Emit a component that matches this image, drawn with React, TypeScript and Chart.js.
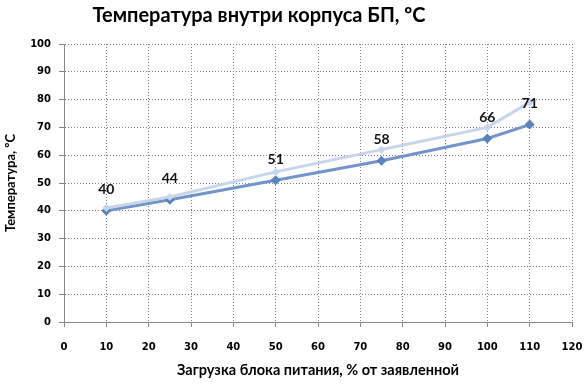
import React, { useEffect, useRef } from "react";
import { Chart, registerables } from "chart.js";

Chart.register(...registerables);

const loadPct = [10, 25, 50, 75, 100, 110];
const tempMain = [40, 44, 51, 58, 66, 71];
const tempLight = [41, 45, 54, 62, 70, 79];
const chartTitle = "Температура внутри корпуса БП, ºC";
const xTitle = "Загрузка блока питания, % от заявленной";
const yTitle = "Температура, ºC";

const labelPlugin = {
  id: "valueLabels",
  afterDatasetsDraw(chart: any) {
    const ctx = chart.ctx;
    const meta = chart.getDatasetMeta(1);
    ctx.save();
    ctx.font = "bold 14px Lato, 'Open Sans', sans-serif";
    ctx.fillStyle = "#111";
    ctx.textAlign = "center";
    ctx.textBaseline = "middle";
    meta.data.forEach((pt: any, i: number) => {
      ctx.fillText(String(tempMain[i]), pt.x, pt.y - 21);
    });
    ctx.restore();
  },
};

const titlePlugin = {
  id: "topTitle",
  afterDraw(chart: any) {
    const ctx = chart.ctx;
    ctx.save();
    ctx.font = "bold 20px Lato, 'Open Sans', sans-serif";
    ctx.fillStyle = "#000";
    ctx.textAlign = "center";
    ctx.textBaseline = "middle";
    ctx.fillText(chartTitle, 259, 16);
    ctx.restore();
  },
};

export default function App() {
  const ref = useRef<HTMLCanvasElement | null>(null);
  useEffect(() => {
    document.body.style.margin = "0";
    const tickFont = { family: "'DejaVu Sans', Tahoma, sans-serif", size: 10, weight: "bold" as const };
    const gridOpts = {
      color: "#808080",
      tickColor: "#888",
      tickLength: 5,
      lineWidth: 1,
      tickBorderDash: [],
      borderDash: [1, 2],
    };
    const chart = new Chart(ref.current!, {
      type: "line",
      data: {
        datasets: [
          {
            data: loadPct.map((x, i) => ({ x, y: tempLight[i] })),
            borderColor: "#c6d5ec",
            backgroundColor: "#c6d5ec",
            borderWidth: 3,
            pointStyle: "rectRot",
            pointRadius: 4,
            pointBorderWidth: 0,
          },
          {
            data: loadPct.map((x, i) => ({ x, y: tempMain[i] })),
            borderColor: "#7094cb",
            backgroundColor: "#5a81c0",
            borderWidth: 3,
            pointStyle: "rectRot",
            pointRadius: 5,
            pointBorderWidth: 0,
          },
        ],
      },
      options: {
        responsive: false,
        animation: false,
        layout: { padding: { top: 44, right: 0, left: 0, bottom: 0 } },
        plugins: { legend: { display: false }, tooltip: { enabled: false }, title: { display: false } },
        scales: {
          x: {
            type: "linear",
            min: 0,
            max: 120,
            ticks: { stepSize: 10, color: "#000", font: tickFont, padding: 14 },
            border: { color: "#888", width: 1, dash: [1, 2] },
            grid: gridOpts,
            title: {
              display: true,
              text: xTitle,
              color: "#000",
              font: { family: "Lato, 'Open Sans', sans-serif", size: 14.5, weight: "bold" },
              padding: { top: 6, bottom: 5 },
            },
            afterFit(scale: any) {
              scale.height = 62;
              scale.paddingRight = 12;
              scale.paddingLeft = 0;
            },
          },
          y: {
            min: 0,
            max: 100,
            ticks: { stepSize: 10, color: "#000", font: tickFont, padding: 8 },
            border: { color: "#888", width: 1, dash: [1, 2] },
            grid: gridOpts,
            title: {
              display: true,
              text: yTitle,
              color: "#000",
              font: { family: "Lato, 'Open Sans', sans-serif", size: 13, weight: "bold" },
              padding: { top: 3, bottom: 6 },
            },
            afterFit(scale: any) {
              scale.width = 64;
            },
          },
        },
      },
      plugins: [
        {
          id: "bg",
          beforeDraw(chart: any) {
            const ctx = chart.ctx;
            ctx.save();
            ctx.fillStyle = "#fff";
            ctx.fillRect(0, 0, chart.width, chart.height);
            ctx.restore();
          },
        },
        labelPlugin,
        titlePlugin,
      ],
    } as any);
    return () => chart.destroy();
  }, []);
  return <canvas ref={ref} width={584} height={384} style={{ display: "block" }} />;
}
